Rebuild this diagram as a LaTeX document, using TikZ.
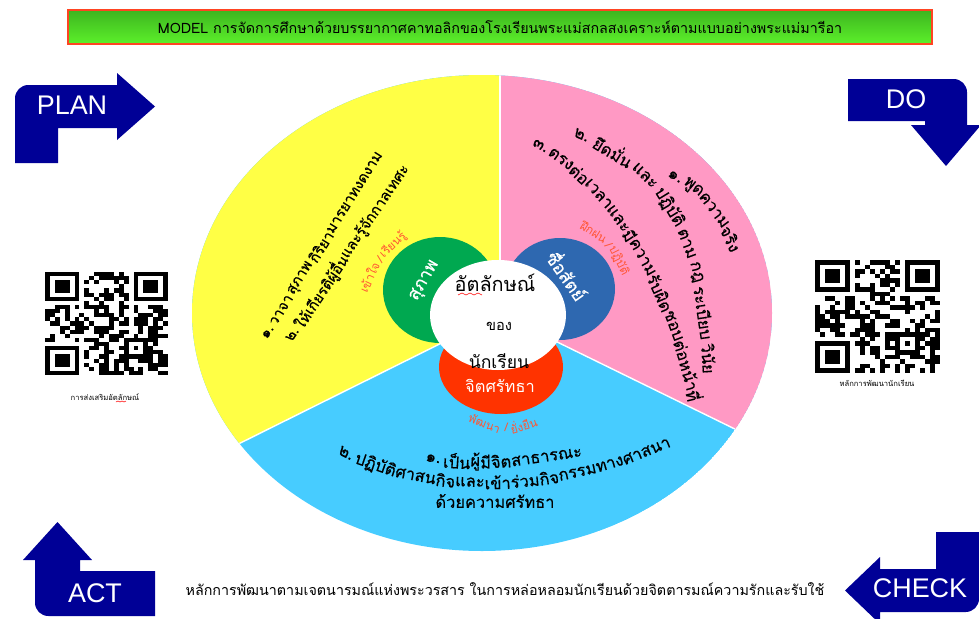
\documentclass[tikz,border=0pt]{standalone}
\usepackage{fontspec}
\newfontfamily\thaifont[Script=Thai]{Loma}
\newfontfamily\thaibold[Script=Thai, FakeBold=0.5]{Loma}
\newfontfamily\cornerfont{Liberation Sans}
\usetikzlibrary{positioning, decorations.markings}
\definecolor{sectyellow}{HTML}{FFFF45}
\definecolor{sectpink}{HTML}{FF99C4}
\definecolor{sectblue}{HTML}{47CCFF}
\definecolor{circgreen}{HTML}{00A850}
\definecolor{circblue}{HTML}{2E68B0}
\definecolor{circred}{HTML}{FF3300}
\definecolor{arrownavy}{HTML}{000096}
\definecolor{labelred}{HTML}{FF5533}
\definecolor{titletop}{HTML}{3DB520}
\definecolor{titlebot}{HTML}{5CF02A}
\definecolor{titleframe}{HTML}{FF4422}
\newcommand\yelfont{\thaibold\fontsize{12.5}{14}\selectfont}
\newcommand\secfont{\thaibold\fontsize{14}{16}\selectfont}
\newcommand\redfont{\thaifont\fontsize{10}{12}\selectfont}
\tikzset{%
	sectortext/.style={font=\secfont},
	circlabel/.style={font=\thaibold\fontsize{15}{17}\selectfont, text=white},
	centrelabel/.style={font=\thaifont\fontsize{15}{17}\selectfont},
	cornerlabel/.style={font=\cornerfont\fontsize{23}{25}\selectfont, text=white},
	captiontext/.style={font=\thaifont\fontsize{6.5}{8}\selectfont},
	bodytext/.style={font=\thaifont\fontsize{12.2}{14}\selectfont},
}
% bent arrow: shift, rotate, thickness, stem, leg, head length, overhang
\newcommand\bentarrow[7]{%
	\fill[arrownavy, shift={#1}, rotate=#2] (0,#4) [rounded corners=4mm] -- (0,0) [sharp corners]
		-- (#5,0) -- (#5,-#7) -- ({#5+#6},{#3/2}) -- ({#5},{#3+#7}) -- (#5,#3) -- (#3,#3) -- (#3,#4) -- cycle;
}
% text along a curve, cut into chunks: [gap], name, font, path, chunks
\newdimen\chunkw
\newdimen\runlen
\newcommand\curvedtext[5][0pt]{%
	\global\runlen=0pt
	\foreach \piece [count=\k] in {#5}{%
		\pgfinterruptpicture\setbox0=\hbox{#3\piece}\global\chunkw=\wd0\endpgfinterruptpicture
		\pgfmathsetmacro\midpos{\the\runlen+0.5*\the\chunkw}%
		\path[decoration={markings, mark=at position \midpos pt with {\node[transform shape, font={#3}] (#2-\k) {\piece};}}, decorate] #4;
		\global\advance\runlen by \chunkw
		\global\advance\runlen by #1
	}%
}
% qr-like block, 25 x 25 modules
\newcommand\qrblock[1]{%
	\pgfmathsetseed{#1}%
	\foreach \i in {0,...,24}{%
		\foreach \j in {0,...,24}{%
			\pgfmathtruncatemacro\infinder{or(or(and(\i<8,\j<8),and(\i>16,\j<8)),and(\i<8,\j>16))}%
			\pgfmathrandominteger{\bit}{0}{1}%
			\ifnum\infinder=0 \ifnum\bit=1 \fill (\i,\j) rectangle ++(1,1);\fi\fi
		}}%
	\foreach \a/\b in {0/0,18/0,0/18}{%
		\fill (\a,\b) rectangle ++(7,7);
		\fill[white] (\a+1,\b+1) rectangle ++(5,5);
		\fill (\a+2,\b+2) rectangle ++(3,3);}%
	\fill (16,16) rectangle ++(5,5);
	\fill[white] (17,17) rectangle ++(3,3);
	\fill (18,18) rectangle ++(1,1);
}

\begin{document}
\begin{tikzpicture}[x=0.3mm, y=-0.3mm, every node/.style={inner sep=0pt}]
	\useasboundingbox (0,0) rectangle (979,619);
	\fill[white] (0,0) rectangle (979,619);

	% Title bar
	\shade[top color=titletop, bottom color=titlebot] (68,10) rectangle (932,44);
	\draw[titleframe, line width=1.2pt] (68,10) rectangle (932,44);
	\node[bodytext] (title) at (500,27) {MODEL การจัดการศึกษาด้วยบรรยากาศคาทอลิกของโรงเรียนพระแม่สกลสงเคราะห์ตามแบบอย่างพระแม่มารีอา};

	% Big disc with three sectors
	\begin{scope}
		\clip (482,313) ellipse [x radius=290, y radius=238];
		\fill[sectblue] (482,313) ellipse [x radius=290, y radius=238];
		\fill[sectyellow] (500,314) -- (500,60) -- (180,60) -- (180,473) -- cycle;
		\fill[sectpink] (500,314) -- (500,60) -- (790,60) -- (790,456) -- cycle;
		\draw[white, line width=1.2pt] (500,314) -- (500,60);
		\draw[white, line width=1.2pt] (500,314) -- (180,473);
		\draw[white, line width=1.2pt] (500,314) -- (790,456);
	\end{scope}

	% Inner circles
	\fill[circgreen] (440,290) ellipse [x radius=57, y radius=53];
	\fill[circblue] (560,289) ellipse [x radius=55, y radius=51];
	\fill[circred] (501,367) ellipse [x radius=62, y radius=47];
	\fill[white] (498,315) ellipse [x radius=68, y radius=55];

	% Centre texts
	\node[centrelabel, font=\thaifont\fontsize{17}{19}\selectfont] (idword) at (495,283) {อัตลักษณ์};
	\draw[red, line width=0.5pt] (458,295) -- (462,293) -- (466,295) -- (470,293) -- (474,295) -- (478,293) -- (482,295);
	\node[centrelabel, font=\thaifont\fontsize{12.5}{14}\selectfont] (ofword) at (499,326) {ของ};
	\node[centrelabel] (pupil) at (499,361) {นักเรียน};
	\node[circlabel, font=\thaifont\fontsize{14}{16}\selectfont] (faith) at (500,386) {จิตศรัทธา};
	\node[circlabel, rotate=60] (polite) at (425,281) {สุภาพ};
	\node[circlabel, rotate=-55] (honest) at (568,275) {ซื่อสัตย์};

	% Small red labels
	\begin{scope}[text=labelred]
		\curvedtext{learn}{\redfont}{(363,294) .. controls (370,268) and (385,248) .. (415,228)}{เข้าใจ\ ,/\ ,เรียนรู้}
		\curvedtext{train}{\redfont}{(579,225) .. controls (605,233) and (622,255) .. (632,300)}{ฝึกฝน\ ,/\ ,ปฏิบัติ}
		\curvedtext{grow}{\redfont}{(469,414) .. controls (490,432) and (522,432) .. (548,412)}{พัฒนา\ ,/\ ,ยั่งยืน}
	\end{scope}

	% Yellow sector
	\curvedtext{yelA}{\yelfont}{(263,340) .. controls (300,280) and (340,215) .. (400,120)}{๑.\ ,วาจา,สุภาพ\ ,กิริยา,มารยาท,งดงาม}
	\curvedtext{yelB}{\yelfont}{(287,342) .. controls (325,285) and (370,220) .. (430,130)}{๒.\ ,ให้,เกียรติ,ผู้อื่น,และ,รู้จัก,กาลเทศะ}

	% Pink sector
	\curvedtext{pinkA}{\secfont}{(666,172) .. controls (700,187) and (730,215) .. (748,290)}{๑.\ ,พูด,ความ,จริง}
	\curvedtext[3.5pt]{pinkB}{\secfont}{(572,131) .. controls (650,160) and (708,215) .. (710,400)}{๒.\ ,ยึดมั่น,และ,ปฏิบัติ,ตาม,กฎ,ระเบียบ,วินัย}
	\curvedtext{pinkC}{\secfont}{(531,141) .. controls (600,172) and (668,270) .. (698,410)}{๓.\ ,ตรง,ต่อ,เวลา,และ,มี,ความ,รับ,ผิด,ชอบ,ต่อ,หน้า,ที่}

	% Blue sector
	\curvedtext{blueA}{\secfont}{(423,457) .. controls (475,466) and (540,462) .. (610,444)}{๑.\ ,เป็น,ผู้,มี,จิต,สาธารณะ}
	\curvedtext{blueB}{\secfont}{(337,448) .. controls (420,495) and (565,498) .. (690,431)}{๒.\ ,ปฏิบัติ,ศาสน,กิจ,และ,เข้า,ร่วม,กิจ,กรรม,ทาง,ศาสนา}
	\node[sectortext] (blueC) at (495,501) {ด้วยความศรัทธา};

	% Corner arrows
	\bentarrow{(15,85)}{0}{43}{78}{102}{38}{12}
	\bentarrow{(967,79)}{-90}{42}{119}{46}{41}{14}
	\bentarrow{(979,612)}{180}{43}{80}{99}{35}{12}
	\bentarrow{(35,616)}{90}{45}{120}{56}{38}{12}
	\node[cornerlabel] (plan) at (72,105) {PLAN};
	\node[cornerlabel] (do) at (906,99) {DO};
	\node[cornerlabel] (check) at (920,588) {CHECK};
	\node[cornerlabel] (act) at (95,593) {ACT};

	% QR codes
	\begin{scope}[shift={(45,272)}, xscale=4.92, yscale=4.12]
		\qrblock{11}
	\end{scope}
	\begin{scope}[shift={(815,260)}, xscale=5, yscale=4.52]
		\qrblock{29}
	\end{scope}
	\node[captiontext] (qrleft) at (105,397) {การส่งเสริมอัตลักษณ์};
	\draw[red, line width=0.4pt] (116,402) -- (118,401) -- (120,402) -- (122,401) -- (124,402) -- (126,401);
	\node[captiontext] (qrright) at (877,383) {หลักการพัฒนานักเรียน};

	% Bottom line
	\node[bodytext] (motto) at (505,589) {หลักการพัฒนาตามเจตนารมณ์แห่งพระวรสาร ในการหล่อหลอมนักเรียนด้วยจิตตารมณ์ความรักและรับใช้};
\end{tikzpicture}
\end{document}
